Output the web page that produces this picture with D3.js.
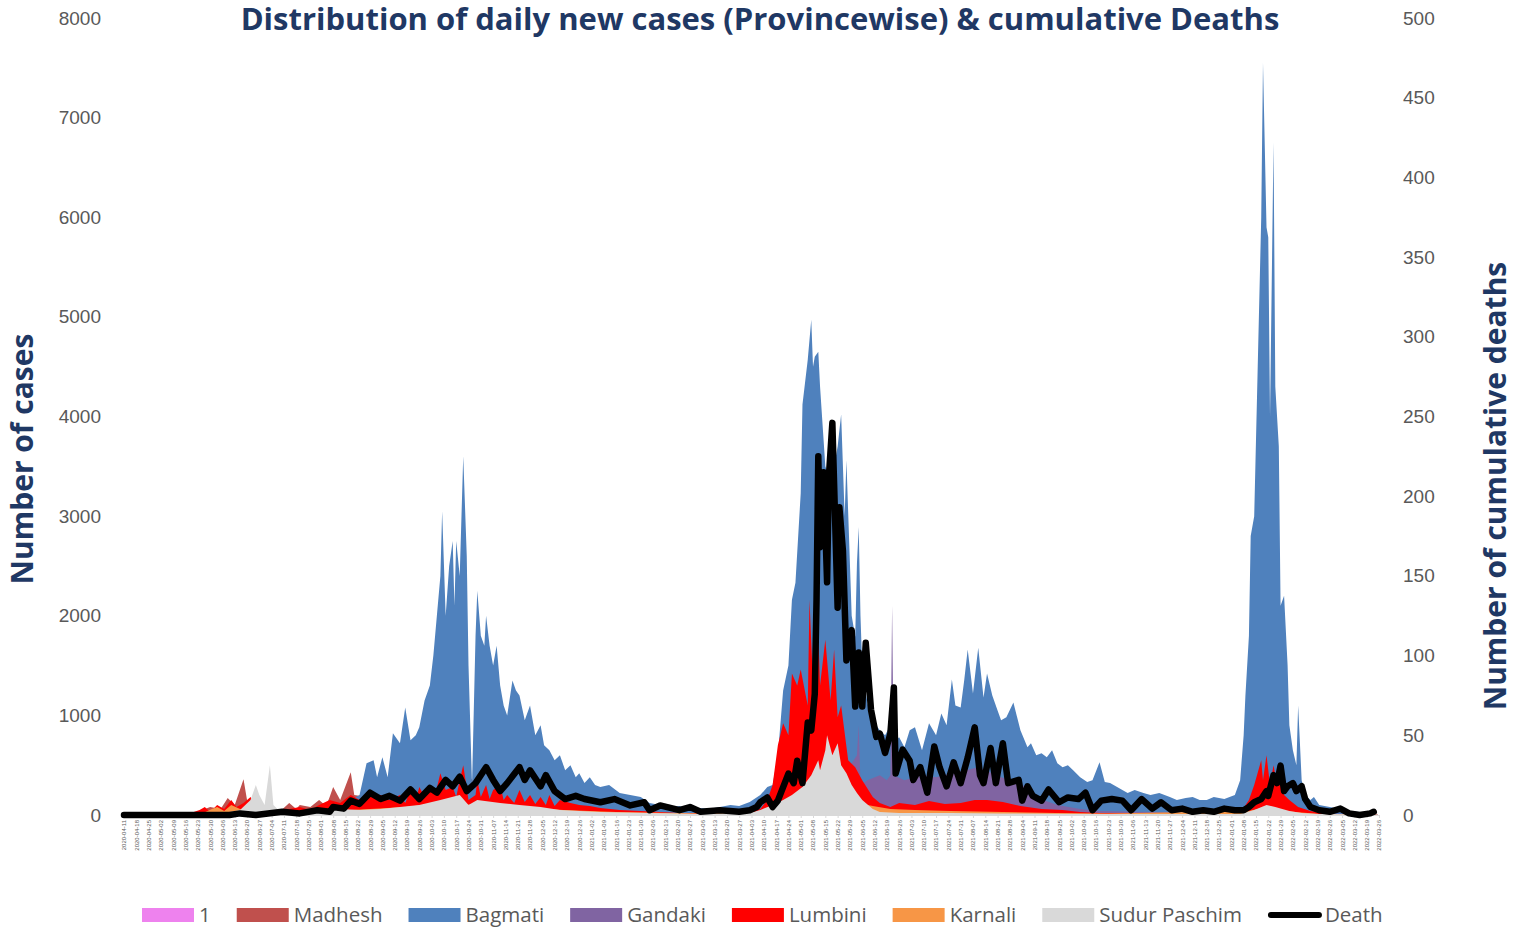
<!DOCTYPE html>
<html>
<head>
<meta charset="utf-8">
<script src="https://cdn.jsdelivr.net/npm/d3@7"></script>
<style>
  body { margin: 0; background: #fff; }
  svg { display: block; font-family: "Open Sans", "Noto Sans", sans-serif; }
</style>
</head>
<body>
<svg id="svg" width="1529" height="928"></svg>
<script>
// first day of the series, values below are [day offset, value]
var startDay = new Date(2020, 3, 11);
var lastDay = 714;

var provinces = ["1", "Madhesh", "Bagmati", "Gandaki", "Lumbini", "Karnali", "Sudur Paschim"];
var colors = ["#ee82ee", "#c0504d", "#4f81bd", "#8064a2", "#ff0000", "#f79646", "#d9d9d9"];

var yTicksLeft = [0, 1000, 2000, 3000, 4000, 5000, 6000, 7000, 8000];
var yTicksRight = [0, 50, 100, 150, 200, 250, 300, 350, 400, 450, 500];

var prov1 = [[0,0],[60,20],[100,40],[130,80],[180,150],[230,100],[271,40],[300,20],[360,30],[380,300],[400,350],[430,100],[500,60],[600,20],[640,100],[648,200],[660,40],[713,5]];

var madhesh = [[0,0],[40,10],[43,40],[49,80],[55,60],[59,170],[63,100],[68,360],[70,150],[75,100],[80,60],[89,40],[94,120],[98,60],[100,100],[106,80],[111,150],[115,90],[117,180],[119,280],[123,150],[129,430],[131,200],[138,180],[146,200],[157,250],[168,250],[180,300],[193,450],[201,300],[214,200],[242,100],[271,50],[328,20],[372,100],[385,300],[396,400],[414,200],[441,80],[498,40],[600,20],[640,80],[648,150],[660,60],[680,20],[713,5]];

var bagmati = [[0,0],[20,5],[50,10],[80,15],[100,20],[111,30],[117,50],[123,100],[129,150],[134,200],[138,520],[142,550],[144,380],[147,580],[150,380],[153,820],[157,720],[160,1080],[163,750],[166,800],[168,880],[171,1150],[174,1300],[176,1600],[178,2000],[180,2400],[181,3050],[183,2000],[185,2500],[187,2750],[188,2100],[189,2750],[191,2400],[193,3600],[195,2600],[196,1500],[198,300],[200,1800],[201,2250],[203,1800],[205,1700],[206,2000],[208,1700],[210,1500],[212,1700],[214,1300],[216,1100],[218,1000],[221,1350],[223,1250],[225,1200],[228,950],[231,1100],[234,800],[237,900],[239,700],[242,650],[245,550],[248,600],[251,450],[254,500],[257,380],[259,420],[262,320],[265,380],[268,300],[271,280],[276,300],[282,220],[288,200],[294,180],[299,120],[305,100],[311,80],[316,90],[322,60],[328,70],[333,60],[339,80],[345,100],[350,90],[356,130],[362,200],[366,280],[369,300],[372,600],[375,1250],[378,1500],[380,2160],[382,2330],[385,3230],[386,4120],[389,4570],[391,4970],[392,4500],[393,4600],[395,4650],[396,4300],[399,3500],[400,3450],[403,3400],[406,3700],[408,4020],[410,3000],[411,3560],[414,2000],[416,1790],[417,2530],[418,2890],[419,2000],[420,1490],[423,1120],[426,950],[430,850],[433,800],[436,900],[439,750],[441,780],[444,680],[447,850],[450,880],[454,650],[458,920],[462,800],[465,1020],[468,900],[471,1360],[473,1100],[476,1080],[478,1350],[480,1660],[483,1220],[486,1680],[489,1180],[491,1420],[494,1200],[497,1050],[499,950],[502,980],[506,1130],[510,850],[514,680],[516,720],[519,600],[522,620],[525,580],[528,650],[531,520],[534,480],[537,500],[540,450],[544,380],[548,330],[551,350],[555,530],[558,330],[561,320],[565,280],[571,220],[575,250],[580,220],[584,200],[589,220],[595,180],[599,150],[604,170],[608,180],[612,150],[616,150],[620,180],[626,160],[632,200],[635,350],[637,800],[638,1200],[640,1800],[641,2800],[643,3000],[645,4500],[647,6000],[648,7550],[650,5900],[651,5800],[652,4000],[654,6750],[655,4300],[657,3700],[658,2100],[660,2200],[662,1500],[663,900],[665,650],[667,500],[668,1100],[670,350],[672,200],[675,150],[677,180],[680,100],[686,80],[692,60],[697,40],[703,30],[709,20],[713,10]];

var gandaki = [[0,0],[100,10],[150,40],[200,80],[250,40],[300,15],[362,20],[372,80],[385,200],[395,300],[406,300],[417,600],[418,900],[419,300],[423,350],[430,400],[434,350],[436,400],[437,2100],[438,400],[444,350],[454,400],[462,380],[471,420],[479,450],[486,480],[494,420],[499,380],[505,350],[510,320],[516,220],[523,150],[531,100],[544,60],[555,40],[612,20],[648,100],[660,80],[670,20],[713,5]];

var lumbini = [[0,0],[35,0],[38,20],[43,50],[46,80],[49,30],[53,100],[57,60],[61,150],[64,80],[68,120],[72,180],[75,80],[79,100],[83,40],[89,30],[94,60],[100,80],[106,50],[111,100],[117,150],[123,120],[129,200],[134,150],[140,180],[146,200],[151,150],[157,200],[160,120],[163,250],[166,150],[168,280],[171,180],[174,300],[177,200],[180,420],[183,250],[187,280],[189,180],[191,350],[193,500],[196,150],[200,200],[201,350],[203,180],[206,300],[208,160],[210,250],[214,300],[216,150],[218,200],[222,120],[225,250],[228,130],[231,200],[234,110],[237,180],[240,100],[242,200],[245,90],[248,150],[254,120],[259,100],[265,90],[271,70],[282,50],[294,40],[305,30],[316,20],[328,20],[339,15],[350,30],[362,60],[366,150],[369,300],[372,700],[375,920],[378,800],[380,1420],[383,1300],[385,1460],[389,1100],[390,2160],[392,1300],[395,1830],[396,1300],[399,1760],[402,1150],[404,1660],[406,980],[408,1100],[412,550],[416,480],[420,350],[426,180],[430,120],[436,80],[441,120],[450,100],[458,140],[467,110],[476,120],[484,150],[491,150],[500,130],[510,90],[514,80],[522,60],[534,50],[544,30],[555,20],[600,15],[635,20],[640,150],[643,300],[647,550],[648,350],[650,600],[652,300],[654,500],[656,300],[658,400],[660,200],[663,150],[668,80],[675,40],[686,10],[713,5]];

var karnali = [[0,0],[45,20],[50,60],[53,80],[57,40],[61,100],[66,60],[70,40],[80,20],[100,30],[117,40],[140,60],[160,80],[180,120],[200,100],[225,80],[250,50],[280,30],[330,15],[360,30],[375,60],[385,100],[395,150],[405,150],[415,130],[420,110],[426,90],[436,60],[450,50],[470,40],[500,30],[530,20],[560,15],[640,40],[650,80],[660,40],[680,10],[713,5]];

var sudurPaschim = [[0,0],[50,10],[60,30],[66,50],[72,150],[75,300],[77,200],[80,100],[83,500],[85,100],[89,30],[94,10],[100,20],[111,40],[123,60],[134,50],[146,60],[157,80],[168,100],[180,150],[191,200],[196,100],[201,150],[214,120],[225,100],[237,80],[248,50],[259,40],[271,30],[299,20],[328,10],[356,20],[362,50],[369,100],[375,150],[380,200],[386,280],[391,400],[395,550],[396,450],[399,650],[400,800],[403,600],[406,720],[408,500],[411,420],[414,300],[417,220],[420,150],[426,60],[430,30],[441,20],[470,20],[498,15],[555,10],[635,10],[643,50],[650,100],[655,80],[663,40],[670,20],[680,10],[713,5]];

var deaths = [[0,0],[60,0],[66,1],[75,0],[90,2],[100,1],[110,3],[117,2],[119,5],[125,4],[129,9],[134,7],[140,14],[146,10],[151,12],[157,9],[163,16],[168,10],[174,17],[178,14],[183,22],[187,18],[191,24],[195,15],[200,20],[206,30],[210,22],[214,15],[218,20],[225,30],[228,22],[231,28],[237,18],[240,25],[245,15],[251,10],[257,12],[262,10],[271,8],[279,10],[288,6],[296,8],[299,3],[305,6],[316,3],[322,5],[328,2],[339,3],[350,2],[356,3],[360,5],[362,8],[366,11],[369,5],[372,9],[378,26],[381,20],[383,34],[386,20],[389,58],[391,53],[393,76],[394,135],[395,225],[396,168],[398,215],[400,146],[401,212],[403,246],[406,130],[407,193],[409,166],[411,97],[414,116],[416,68],[418,102],[420,68],[422,108],[425,66],[428,49],[430,51],[433,39],[436,51],[438,80],[439,26],[443,41],[447,34],[449,22],[453,30],[457,14],[461,43],[464,30],[468,18],[472,33],[476,20],[480,36],[484,55],[487,25],[489,20],[493,42],[496,20],[500,45],[503,20],[509,22],[511,9],[514,18],[517,12],[522,9],[526,16],[532,8],[537,11],[543,10],[547,14],[551,3],[556,9],[562,10],[568,9],[573,3],[579,10],[585,4],[590,8],[596,3],[602,4],[608,2],[614,3],[620,2],[626,4],[632,3],[637,3],[640,5],[643,8],[647,10],[650,15],[651,12],[654,25],[656,20],[658,31],[660,15],[662,18],[665,20],[667,15],[670,18],[672,10],[675,5],[680,3],[686,2],[692,4],[697,1],[703,0],[709,1],[711,2]];

var series = [prov1, madhesh, bagmati, gandaki, lumbini, karnali, sudurPaschim];

var svg = d3.select("#svg");
var grey = "#595959";
var navy = "#1f3864";

function dayDate(d) { return d3.timeDay.offset(startDay, d); }

// scales
var scaleX = d3.scaleTime()
  .domain([startDay, dayDate(lastDay)])
  .range([124, 1379]);
var scaleY = d3.scaleLinear().domain([0, 8000]).range([815, 18]);
var scaleY2 = d3.scaleLinear().domain([0, 500]).range([815, 18]);

// areas, drawn one over the other (not stacked)
var area = d3.area()
  .x(function(d) { return scaleX(dayDate(d[0])); })
  .y0(scaleY(0))
  .y1(function(d) { return scaleY(d[1]); });

var gAreas = svg.append("g");
for (var i = 0; i < series.length; i++) {
  gAreas.append("path")
    .attr("d", area(series[i]))
    .attr("fill", colors[i]);
}

// x axis with weekly date labels
var weekTicks = d3.range(0, lastDay + 1, 7).map(dayDate);
var axisX = d3.axisBottom(scaleX)
  .tickValues(weekTicks)
  .tickFormat(d3.timeFormat("%Y-%m-%d"))
  .tickSize(3);
var gAxisX = svg.append("g").attr("transform", "translate(0,815)").call(axisX);
gAxisX.select(".domain").attr("stroke", "#d9d9d9");
gAxisX.selectAll(".tick line").attr("stroke", "#d9d9d9");
gAxisX.selectAll("text")
  .attr("fill", grey)
  .style("font-size", "6px")
  .attr("text-anchor", "end")
  .attr("transform", "rotate(-90)")
  .attr("x", -5)
  .attr("y", 0)
  .attr("dy", "0.32em");

// death line on secondary axis
var line = d3.line()
  .x(function(d) { return scaleX(dayDate(d[0])); })
  .y(function(d) { return scaleY2(d[1]); });
svg.append("path")
  .attr("d", line(deaths))
  .attr("fill", "none")
  .attr("stroke", "#000")
  .attr("stroke-width", 6.5)
  .attr("stroke-linejoin", "round")
  .attr("stroke-linecap", "round");

// left axis
var axisY = d3.axisLeft(scaleY).tickValues(yTicksLeft).tickFormat(d3.format("d")).tickSize(0).tickPadding(0);
var gAxisY = svg.append("g").attr("transform", "translate(101,0)").call(axisY);
gAxisY.select(".domain").remove();
gAxisY.selectAll("text").attr("fill", grey).style("font-size", "19px");

// right axis
var axisY2 = d3.axisRight(scaleY2).tickValues(yTicksRight).tickFormat(d3.format("d")).tickSize(0).tickPadding(0);
var gAxisY2 = svg.append("g").attr("transform", "translate(1403,0)").call(axisY2);
gAxisY2.select(".domain").remove();
gAxisY2.selectAll("text").attr("fill", grey).style("font-size", "19px");

// title
svg.append("text")
  .attr("x", 760)
  .attr("y", 30)
  .attr("text-anchor", "middle")
  .attr("fill", navy)
  .style("font-size", "31px")
  .style("font-weight", "bold")
  .text("Distribution of daily new cases (Provincewise) & cumulative Deaths");

// axis labels
svg.append("text")
  .attr("transform", "translate(33,459) rotate(-90)")
  .attr("text-anchor", "middle")
  .attr("fill", navy)
  .style("font-size", "30px")
  .style("font-weight", "bold")
  .text("Number of cases");

svg.append("text")
  .attr("transform", "translate(1506,486) rotate(-90)")
  .attr("text-anchor", "middle")
  .attr("fill", navy)
  .style("font-size", "30px")
  .style("font-weight", "bold")
  .text("Number of cumulative deaths");

// legend
var legendNames = provinces.concat(["Death"]);
var gLegend = svg.append("g");
var lx = 142;
for (var j = 0; j < legendNames.length; j++) {
  if (j < provinces.length) {
    gLegend.append("rect")
      .attr("x", lx).attr("y", 908)
      .attr("width", 52).attr("height", 14)
      .attr("fill", colors[j]);
  } else {
    gLegend.append("line")
      .attr("x1", lx + 3).attr("x2", lx + 51)
      .attr("y1", 915).attr("y2", 915)
      .attr("stroke", "#000")
      .attr("stroke-width", 6)
      .attr("stroke-linecap", "round");
  }
  var t = gLegend.append("text")
    .attr("x", lx + 57)
    .attr("y", 922)
    .attr("fill", grey)
    .style("font-size", "20.5px")
    .text(legendNames[j]);
  lx = lx + 57 + t.node().getComputedTextLength() + 26;
}
</script>
</body>
</html>
